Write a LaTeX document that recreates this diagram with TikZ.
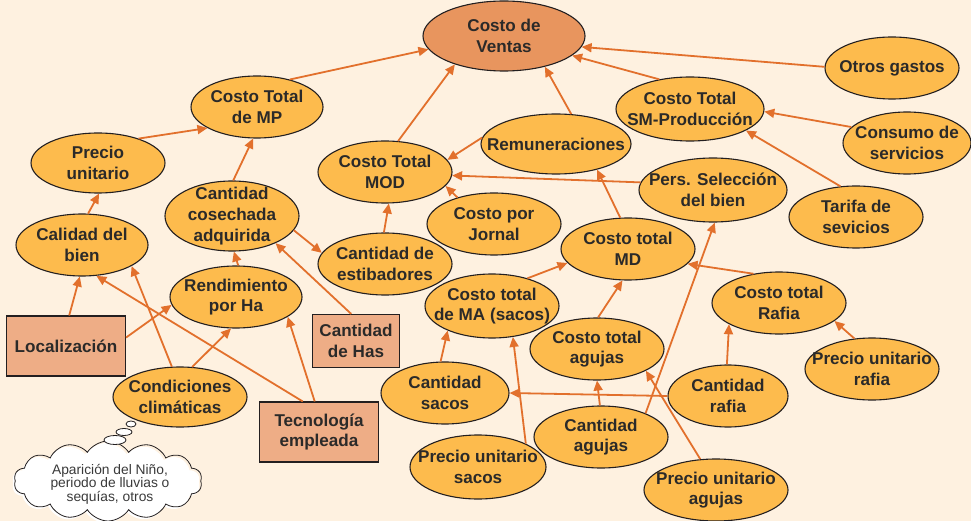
\documentclass[tikz,border=0pt]{standalone}
\usepackage{fontspec}
\setmainfont{Liberation Sans}
\usetikzlibrary{shapes.geometric,shapes.symbols,arrows.meta}

\definecolor{bgcol}{HTML}{FEF1E0}
\definecolor{ellfill}{HTML}{FDBB4D}
\definecolor{mainfill}{HTML}{E8955E}
\definecolor{boxfill}{HTML}{EEAD86}
\definecolor{arrcol}{HTML}{E2702C}
\definecolor{linecol}{HTML}{231F20}
\definecolor{txtcol}{HTML}{2B2A29}
\definecolor{notecol}{HTML}{3A3A3A}

\tikzset{
  ell/.style={ellipse, draw=linecol, line width=1.1pt, fill=ellfill, inner sep=0pt},
  mainell/.style={ell, fill=mainfill},
  boxnode/.style={rectangle, draw=linecol, line width=1.1pt, fill=boxfill, inner sep=0pt},
  lbl/.style={font=\fontsize{17.1}{20.6}\selectfont\bfseries, text=txtcol, align=center, inner sep=0pt},
  notelbl/.style={font=\fontsize{13.8}{13.6}\selectfont, text=notecol, align=center, inner sep=0pt},
  cloudshape/.style={cloud, cloud puffs=14, cloud puff arc=115, aspect=2.5, inner sep=0pt,
                     minimum width=188pt, minimum height=80pt},
  bubble/.style={ellipse, draw=linecol, line width=0.8pt, fill=white, inner sep=0pt},
  arr/.style={draw=arrcol, line width=1.8pt, -{Triangle[length=10pt,width=9pt]}},
}

% oval concept: name, x, y, width, height, text
\newcommand\conceptoval[6]{%
  \node[ell, minimum width=#4pt, minimum height=#5pt] (#1) at (#2,#3) {};
  \node[lbl] (#1-t) at (#1) {#6};}
% rectangular factor: name, x, y, width, height, text
\newcommand\factorbox[6]{%
  \node[boxnode, minimum width=#4pt, minimum height=#5pt] (#1) at (#2,#3) {};
  \node[lbl] (#1-t) at (#1) {#6};}

\begin{document}
\begin{tikzpicture}[x=1pt,y=-1pt]
\useasboundingbox (0,0) rectangle (971,521);
\fill[bgcol] (0,0) rectangle (971,521);

% main result
\node[mainell, minimum width=162pt, minimum height=70pt] (cv) at (504,36) {};
\node[lbl] (cv-t) at (cv) {Costo de\\Ventas};

% cost concepts
\conceptoval{mp}{257}{107}{132}{62}{Costo Total\\de MP}
\conceptoval{pu}{98}{163}{134}{60}{Precio\\unitario}
\conceptoval{cal}{82}{245}{132}{62}{Calidad del\\bien}
\conceptoval{coc}{232}{216}{134}{70}{Cantidad\\cosechada\\adquirida}
\conceptoval{mod}{385}{172}{134}{62}{Costo Total\\MOD}
\conceptoval{rem}{556}{144}{150}{60}{Remuneraciones}
\conceptoval{sm}{690}{109}{148}{64}{Costo Total\\SM-Producción}
\conceptoval{otr}{892}{68}{134}{62}{Otros gastos}
\conceptoval{cons}{907}{143}{128}{62}{Consumo de\\servicios}
\conceptoval{pers}{713}{190}{148}{64}{Pers. Selección\\del bien}
\conceptoval{tar}{856}{217}{134}{62}{Tarifa de\\sevicios}
\conceptoval{jor}{494}{224}{134}{62}{Costo por\\Jornal}
\conceptoval{md}{628}{249}{134}{62}{Costo total\\MD}
\conceptoval{est}{385}{264}{134}{62}{Cantidad de\\estibadores}
\conceptoval{ren}{236}{297}{132}{62}{Rendimiento\\por Ha}
\conceptoval{cli}{180}{397}{134}{60}{Condiciones\\climáticas}
\conceptoval{ma}{492}{306}{134}{64}{Costo total\\de MA (sacos)}
\conceptoval{ag}{597}{349}{134}{62}{Costo total\\agujas}
\conceptoval{cs}{445}{393}{128}{62}{Cantidad\\sacos}
\conceptoval{ca}{601}{437}{134}{62}{Cantidad\\agujas}
\conceptoval{pus}{478}{467}{136}{64}{Precio unitario\\sacos}
\conceptoval{raf}{779}{303}{134}{62}{Costo total\\Rafia}
\conceptoval{pur}{872}{369}{134}{62}{Precio unitario\\rafia}
\conceptoval{cr}{728}{396}{120}{62}{Cantidad\\rafia}
\conceptoval{pua}{716}{490}{144}{62}{Precio unitario\\agujas}

% external factors
\factorbox{loc}{66}{346}{119}{60}{Localización}
\factorbox{has}{356}{341}{87}{53}{Cantidad\\de Has}
\factorbox{tec}{319}{432}{119}{60}{Tecnología\\empleada}

% thought cloud: white offset backing, then outlined cloud
\node[cloudshape, fill=white] (note-back) at (106,483) {};
\node[cloudshape, draw=linecol, line width=0.8pt] (note) at (108,481) {};
\node[notelbl] (note-t) at (110,484) {Aparición del Niño,\\periodo de lluvias o\\sequías, otros};
\node[bubble, minimum width=22pt, minimum height=9pt] (b1) at (115,440) {};
\node[bubble, minimum width=16pt, minimum height=7pt] (b2) at (124,432) {};
\node[bubble, minimum width=10pt, minimum height=6pt] (b3) at (131,424) {};

% influences
\draw[arr] (mp.40) -- (cv.190);
\draw[arr] (pu.31) -- (mp.203);
\draw[arr] (cal.79) -- (pu.272);
\draw[arr] (coc.88) -- (mp.263);
\draw[arr] (mod.67) -- (cv.210);
\draw[arr] (rem.63) -- (cv.323);
\draw[arr] (rem.175) -- (mod.11);
\draw[arr] (sm.136) -- (cv.344);
\draw[arr] (otr.179) -- (cv.352);
\draw[arr] (cons.164) -- (sm.358);
\draw[arr] (tar.117) -- (sm.339);
\draw[arr] (pers.174) -- (mod.357);
\draw[arr] (md.104) -- (rem.328);
\draw[arr] (jor.144) -- (mod.347);
\draw[arr] (est.92) -- (mod.277);
\draw[arr] (coc.347) -- (est.170);
\draw[arr] (has.100) -- (coc.328);
\draw[arr] (ren.86) -- (coc.273);
\draw[arr] (loc.84) -- (cal.266);
\draw[arr] (loc.8) -- (ren.187);
\draw[arr] (cli.105) -- (cal.337);
\draw[arr] (cli.68) -- (ren.261);
\draw[arr] (tec.118) -- (cal.295);
\draw[arr] (tec.98) -- (ren.339);
\draw[arr] (ma.38) -- (md.193);
\draw[arr] (ag.88) -- (md.260);
\draw[arr] (raf.131) -- (md.346);
\draw[arr] (cs.98) -- (ma.209);
\draw[arr] (pus.26) -- (ma.304);
\draw[arr] (ca.92) -- (ag.270);
\draw[arr] (cr.west) -- (cs.east);
\draw[arr] (ca.28) -- (pers.273);
\draw[arr] (pua.117) -- (ag.336);
\draw[arr] (cr.92) -- (raf.203);
\draw[arr] (pur.120) -- (raf.342);
\end{tikzpicture}
\end{document}
